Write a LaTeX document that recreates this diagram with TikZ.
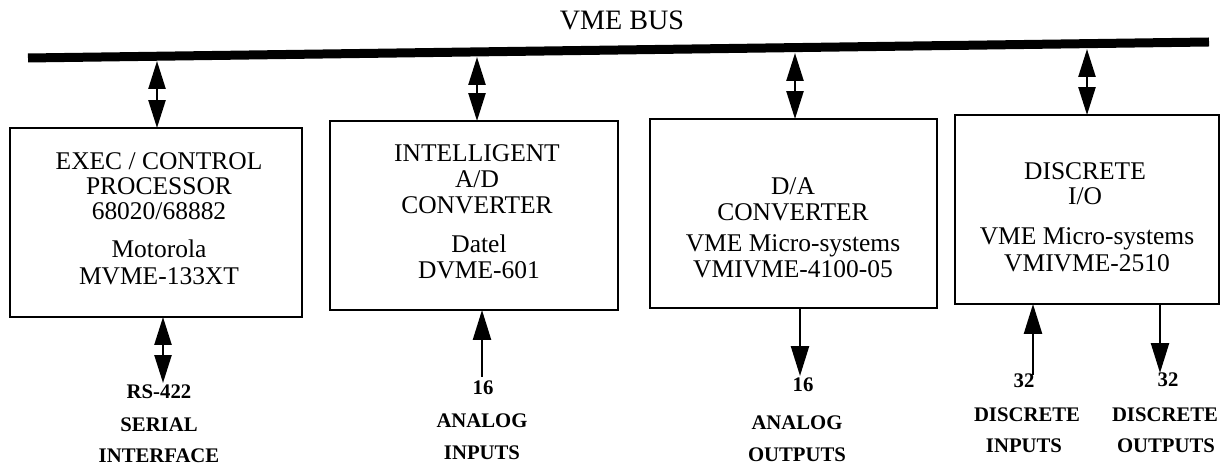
\documentclass[tikz,border=0pt]{standalone}
\usepackage{fontspec}
\setmainfont{Liberation Serif}
\usetikzlibrary{arrows.meta}
\begin{document}
\begin{tikzpicture}[x=0.02cm,y=-0.02cm,
  box/.style={draw,line width=1.1pt,inner sep=0pt,outer sep=0pt},
  txt/.style={font=\fontsize{14.5}{17}\selectfont,anchor=base,inner sep=0pt},
  ttl/.style={font=\fontsize{16}{19}\selectfont,anchor=base,inner sep=0pt},
  lbl/.style={font=\bfseries\fontsize{11.8}{14}\selectfont,anchor=base,inner sep=0pt},
  conn/.style={line width=1.4pt},
  dbl/.style={conn,{Triangle[length=0.56cm,width=0.34cm]}-{Triangle[length=0.56cm,width=0.34cm]}},
  arr/.style={conn,-{Triangle[length=0.6cm,width=0.36cm]}},
  bus/.style={line width=0.18cm}]
\useasboundingbox (0,0) rectangle (1221,465);

% title and bus
\node[ttl] (title) at (622,30) {VME BUS};
\coordinate (busL) at (28,58);
\coordinate (busR) at (1209,42);
\draw[bus] (busL) -- (busR);
\coordinate (t1) at (157,61);
\coordinate (t2) at (477,57);
\coordinate (t3) at (795,53);
\coordinate (t4) at (1087,49);

% boxes
\node[box,minimum width=5.84cm,minimum height=3.78cm] (b1) at (156,222.5) {};
\node[box,minimum width=5.76cm,minimum height=3.78cm] (b2) at (474,215.5) {};
\node[box,minimum width=5.74cm,minimum height=3.78cm] (b3) at (793.5,213.5) {};
\node[box,minimum width=5.28cm,minimum height=3.78cm] (b4) at (1087,209.5) {};

% box texts
\node[txt] (b1a) at (159,170) {EXEC / CONTROL};
\node[txt] (b1b) at (159,195) {PROCESSOR};
\node[txt] (b1c) at (159,220) {68020/68882};
\node[txt] (b1d) at (159,258) {Motorola};
\node[txt] (b1e) at (159,285) {MVME-133XT};

\node[txt] (b2a) at (477,162) {INTELLIGENT};
\node[txt] (b2b) at (477,188) {A/D};
\node[txt] (b2c) at (477,214) {CONVERTER};
\node[txt] (b2d) at (479,253) {Datel};
\node[txt] (b2e) at (479,279) {DVME-601};

\node[txt] (b3a) at (793,195) {D/A};
\node[txt] (b3b) at (793,221) {CONVERTER};
\node[txt] (b3c) at (793,252) {VME Micro-systems};
\node[txt] (b3d) at (793,278) {VMIVME-4100-05};

\node[txt] (b4a) at (1085,180) {DISCRETE};
\node[txt] (b4b) at (1085,205) {I/O};
\node[txt] (b4c) at (1087,245) {VME Micro-systems};
\node[txt] (b4d) at (1087,272) {VMIVME-2510};

% bus connectors
\draw[dbl] (t1) -- (b1.north -| t1);
\draw[dbl] (t2) -- (b2.north -| t2);
\draw[dbl] (t3) -- (b3.north -| t3);
\draw[dbl] (t4) -- (b4.north -| t4);

% bottom labels
\node[lbl] (l1a) at (159,399) {RS-422};
\node[lbl] (l1b) at (159,432) {SERIAL};
\node[lbl] (l1c) at (159,463) {INTERFACE};

\node[lbl] (l2a) at (483,395) {16};
\node[lbl] (l2b) at (482,428) {ANALOG};
\node[lbl] (l2c) at (482,460) {INPUTS};

\node[lbl] (l3a) at (803,392) {16};
\node[lbl] (l3b) at (797,430) {ANALOG};
\node[lbl] (l3c) at (797,462) {OUTPUTS};

\node[lbl] (l4a) at (1024,388) {32};
\node[lbl] (l4b) at (1027,422) {DISCRETE};
\node[lbl] (l4c) at (1024,453) {INPUTS};

\node[lbl] (l5a) at (1168,387) {32};
\node[lbl] (l5b) at (1165,422) {DISCRETE};
\node[lbl] (l5c) at (1166,453) {OUTPUTS};

% bottom connectors
\coordinate (e1) at (163,383);
\coordinate (e2) at (482,377);
\coordinate (e3) at (800,376);
\coordinate (e4) at (1033,375);
\coordinate (e5) at (1160,373);
\draw[dbl] (b1.south -| e1) -- (e1);
\draw[arr] (e2) -- (b2.south -| e2);
\draw[arr] (b3.south -| e3) -- (e3);
\draw[arr] (e4) -- (b4.south -| e4);
\draw[arr] (b4.south -| e5) -- (e5);
\end{tikzpicture}
\end{document}
